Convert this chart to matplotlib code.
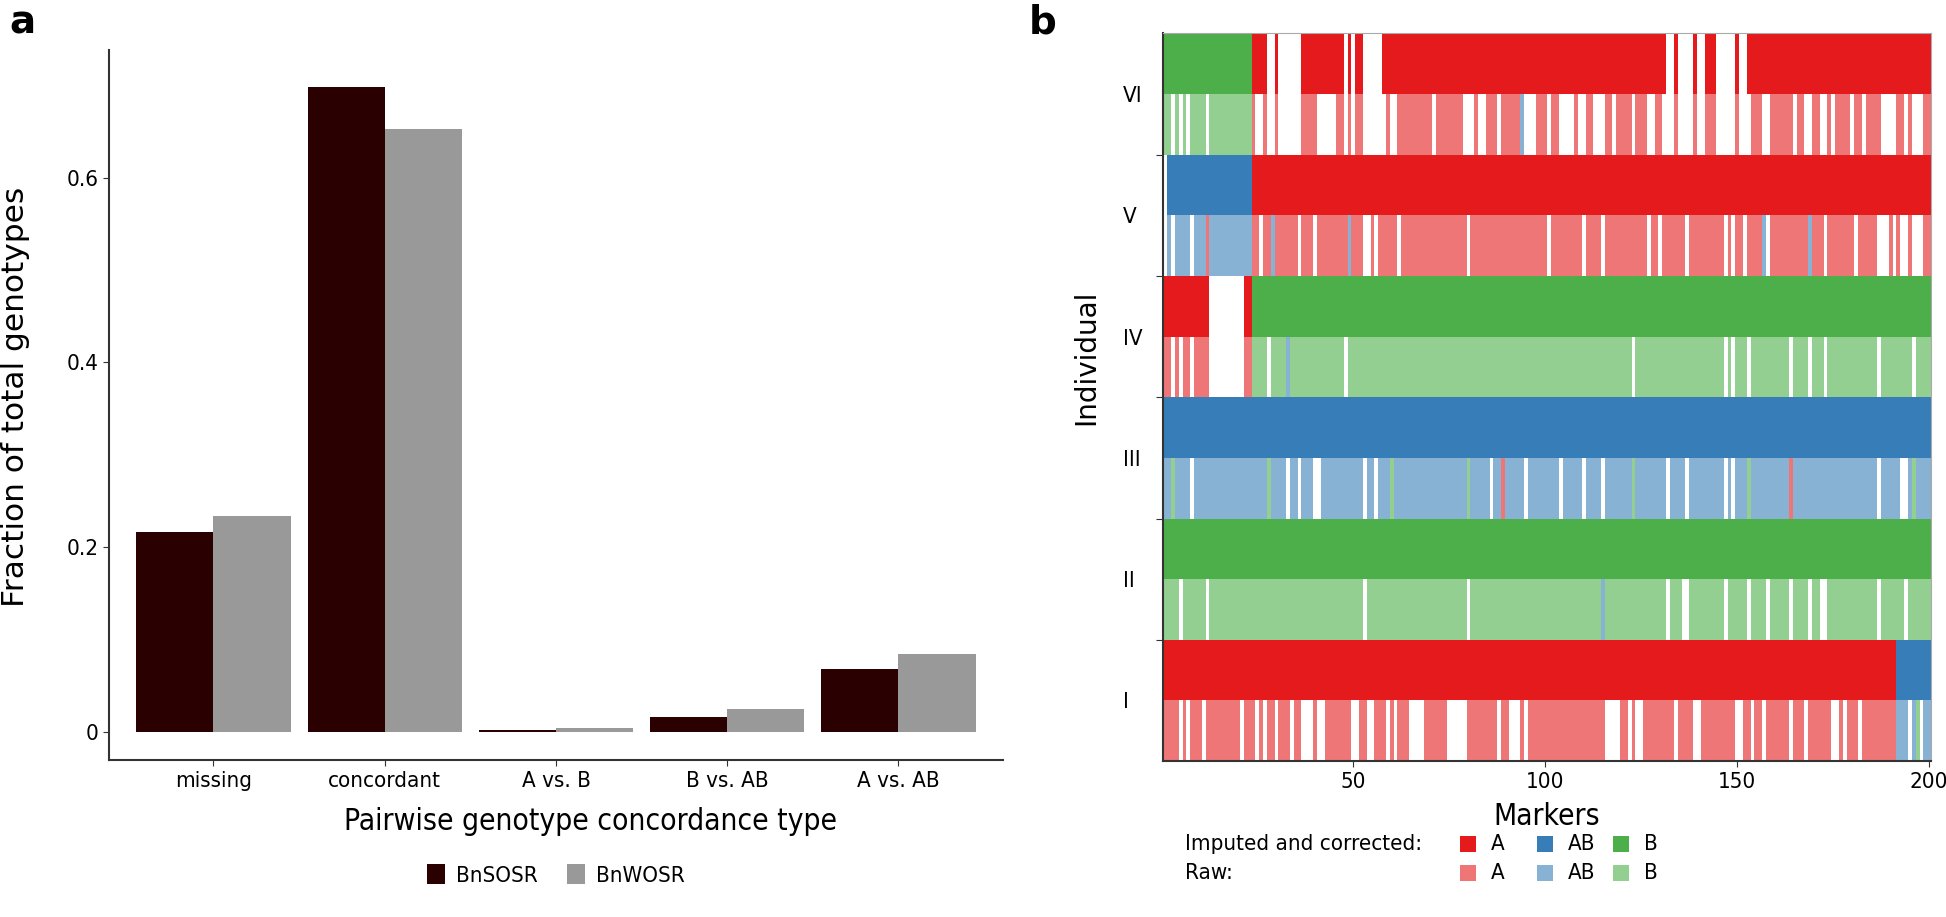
import matplotlib
matplotlib.use('Agg')
import matplotlib.pyplot as plt
from matplotlib.patches import Rectangle
from matplotlib.font_manager import FontProperties

# panel a: genotype concordance
categories = ['missing', 'concordant', 'A vs. B', 'B vs. AB', 'A vs. AB']
bnsosr = [0.217, 0.698, 0.002, 0.016, 0.068]
bnwosr = [0.234, 0.652, 0.005, 0.025, 0.085]

# panel b: genotype runs per individual, (first marker, last marker, genotype); gaps are missing
individuals = ['I', 'II', 'III', 'IV', 'V', 'VI']

imputed = {
    'VI': [(1, 23, 'B'), (24, 27, 'A'), (30, 30, 'A'), (37, 47, 'A'), (49, 49, 'A'), (51, 52, 'A'),
           (58, 131, 'A'), (134, 134, 'A'), (139, 139, 'A'), (142, 144, 'A'), (150, 150, 'A'),
           (153, 200, 'A')],
    'V': [(2, 23, 'AB'), (24, 200, 'A')],
    'IV': [(1, 12, 'A'), (22, 23, 'A'), (24, 200, 'B')],
    'III': [(1, 200, 'AB')],
    'II': [(1, 200, 'B')],
    'I': [(1, 191, 'A'), (192, 200, 'AB')],
}

raw = {
    'VI': [(1, 2, 'B'), (4, 4, 'B'), (6, 6, 'B'), (8, 11, 'B'), (13, 23, 'B'), (24, 24, 'A'),
           (27, 27, 'A'), (30, 30, 'A'), (37, 40, 'A'), (46, 47, 'A'), (49, 49, 'A'), (51, 52, 'A'),
           (59, 59, 'A'), (62, 70, 'A'), (72, 78, 'A'), (82, 82, 'A'), (85, 87, 'A'), (89, 93, 'A'),
           (94, 94, 'AB'), (98, 100, 'A'), (102, 103, 'A'), (108, 108, 'A'), (111, 112, 'A'),
           (116, 117, 'A'), (119, 122, 'A'), (124, 126, 'A'), (129, 130, 'A'), (134, 134, 'A'),
           (139, 139, 'A'), (142, 144, 'A'), (150, 150, 'A'), (154, 156, 'A'), (159, 164, 'A'),
           (166, 167, 'A'), (170, 171, 'A'), (174, 174, 'A'), (176, 179, 'A'), (181, 182, 'A'),
           (184, 187, 'A'), (192, 193, 'A'), (195, 195, 'A'), (199, 200, 'A')],
    'V': [(2, 2, 'AB'), (4, 7, 'AB'), (9, 11, 'AB'), (12, 12, 'A'), (13, 23, 'AB'), (24, 25, 'A'),
          (27, 28, 'A'), (29, 29, 'AB'), (30, 35, 'A'), (37, 39, 'A'), (41, 48, 'A'), (49, 49, 'AB'),
          (50, 52, 'A'), (55, 55, 'A'), (57, 61, 'A'), (63, 79, 'A'), (81, 100, 'A'), (102, 109, 'A'),
          (111, 114, 'A'), (116, 126, 'A'), (128, 129, 'A'), (131, 136, 'A'), (138, 146, 'A'),
          (148, 148, 'A'), (150, 151, 'A'), (153, 156, 'A'), (157, 157, 'AB'), (159, 168, 'A'),
          (169, 169, 'AB'), (170, 172, 'A'), (174, 180, 'A'), (182, 186, 'A'), (190, 190, 'A'),
          (192, 192, 'A'), (195, 195, 'A'), (199, 200, 'A')],
    'IV': [(1, 2, 'A'), (4, 4, 'A'), (6, 7, 'A'), (9, 12, 'A'), (22, 23, 'A'), (24, 27, 'B'),
           (29, 32, 'B'), (33, 33, 'AB'), (34, 47, 'B'), (49, 122, 'B'), (124, 146, 'B'),
           (148, 148, 'B'), (150, 152, 'B'), (154, 163, 'B'), (165, 168, 'B'), (170, 172, 'B'),
           (174, 186, 'B'), (188, 195, 'B'), (197, 200, 'B')],
    'III': [(1, 2, 'AB'), (3, 3, 'B'), (4, 7, 'AB'), (9, 27, 'AB'), (28, 28, 'B'), (29, 32, 'AB'),
            (34, 35, 'AB'), (37, 39, 'AB'), (42, 52, 'AB'), (54, 55, 'AB'), (57, 59, 'AB'),
            (60, 60, 'B'), (61, 79, 'AB'), (80, 80, 'B'), (81, 85, 'AB'), (87, 88, 'AB'),
            (89, 89, 'A'), (90, 94, 'AB'), (96, 103, 'AB'), (105, 109, 'AB'), (111, 114, 'AB'),
            (116, 122, 'AB'), (123, 123, 'B'), (124, 131, 'AB'), (133, 136, 'AB'), (138, 146, 'AB'),
            (148, 148, 'AB'), (150, 152, 'AB'), (153, 153, 'B'), (154, 163, 'AB'), (164, 164, 'A'),
            (165, 186, 'AB'), (188, 192, 'AB'), (195, 195, 'AB'), (196, 196, 'B'), (197, 200, 'AB')],
    'II': [(1, 4, 'B'), (6, 11, 'B'), (13, 52, 'B'), (54, 79, 'B'), (81, 114, 'B'), (115, 115, 'AB'),
           (116, 131, 'B'), (133, 135, 'B'), (138, 146, 'B'), (148, 152, 'B'), (154, 157, 'B'),
           (159, 163, 'B'), (165, 168, 'B'), (170, 171, 'B'), (174, 186, 'B'), (188, 193, 'B'),
           (195, 200, 'B')],
    'I': [(1, 4, 'A'), (6, 6, 'A'), (8, 10, 'A'), (12, 20, 'A'), (22, 24, 'A'), (26, 26, 'A'),
          (28, 29, 'A'), (31, 33, 'A'), (35, 36, 'A'), (40, 40, 'A'), (43, 49, 'A'), (52, 53, 'A'),
          (56, 58, 'A'), (60, 60, 'A'), (62, 64, 'A'), (69, 74, 'A'), (80, 87, 'A'), (89, 90, 'A'),
          (94, 94, 'A'), (96, 115, 'A'), (120, 121, 'A'), (123, 123, 'A'), (126, 133, 'A'),
          (135, 138, 'A'), (141, 149, 'A'), (152, 153, 'A'), (155, 156, 'A'), (158, 163, 'A'),
          (165, 167, 'A'), (169, 174, 'A'), (177, 177, 'A'), (179, 181, 'A'), (183, 191, 'A'),
          (192, 194, 'AB'), (196, 196, 'AB'), (197, 197, 'B'), (199, 200, 'AB')],
}

genotypes = ['A', 'AB', 'B']
imputed_colors = {'A': '#E41A1C', 'AB': '#377EB8', 'B': '#4DAF4A'}
raw_colors = {'A': '#EF7677', 'AB': '#87B2D4', 'B': '#94CF92'}

plt.rcParams['font.family'] = ['DejaVu Sans']


def cond(size):
    return FontProperties(family='DejaVu Sans', stretch='condensed', size=size)


TICK = 16
TITLE = 21.5
W, H = 1946, 917
fig = plt.figure(figsize=(W / 100, H / 100), dpi=100)

# ---- panel a ----
ax1 = fig.add_axes([0.056, 0.171, 0.4594, 0.7745])
x = list(range(len(categories)))
w = 0.45
ax1.bar([i - w / 2 for i in x], bnsosr, width=w, color='#2B0000', label='BnSOSR')
ax1.bar([i + w / 2 for i in x], bnwosr, width=w, color='#999999', label='BnWOSR')
ax1.set_xlim(-0.61, 4.61)
ax1.set_ylim(-0.0303, 0.738)
ax1.set_yticks([0, 0.2, 0.4, 0.6])
ax1.set_yticklabels(['0', '0.2', '0.4', '0.6'])
ax1.set_xticks(x)
ax1.set_xticklabels(categories)
ax1.tick_params(length=4, color='#333333')
for lab in ax1.get_xticklabels() + ax1.get_yticklabels():
    lab.set_fontproperties(cond(TICK))
ax1.spines['top'].set_visible(False)
ax1.spines['right'].set_visible(False)
for side in ('left', 'bottom'):
    ax1.spines[side].set_color('#333333')
    ax1.spines[side].set_linewidth(1.5)
ax1.set_xlabel('Pairwise genotype concordance type', fontproperties=cond(TITLE), va='center')
ax1.xaxis.set_label_coords(0.539, -0.087)
ax1.set_ylabel('Fraction of total genotypes', fontsize=22.5)
ax1.yaxis.set_label_coords(-0.088, 0.511)
ax1.legend(loc='upper center', bbox_to_anchor=(0.5, -0.118), ncol=2, frameon=False,
           prop=cond(TICK), handlelength=0.8, handleheight=1.0, columnspacing=1.3,
           handletextpad=0.5)

fig.text(0.005, 0.975, 'a', fontsize=28, fontweight='bold', va='center')
fig.text(0.5284, 0.975, 'b', fontsize=28, fontweight='bold', va='center')

# ---- panel b ----
ax2 = fig.add_axes([0.5976, 0.170, 0.3947, 0.7935])
for k, ind in enumerate(individuals):
    for runs, colors, y0 in ((raw[ind], raw_colors, k), (imputed[ind], imputed_colors, k + 0.5)):
        for g in genotypes:
            spans = [(s - 0.5, e - s + 1) for s, e, gg in runs if gg == g]
            if spans:
                ax2.broken_barh(spans, (y0, 0.5), facecolors=colors[g], edgecolor='none')

ax2.set_xlim(0.4, 200.5)
ax2.set_ylim(0, 6)
ax2.set_xticks([50, 100, 150, 200])
ax2.set_yticks([1, 2, 3, 4, 5])
ax2.set_yticklabels([])
ax2.set_yticks([k + 0.5 for k in range(6)], minor=True)
ax2.set_yticklabels(individuals, minor=True)
ax2.tick_params(axis='y', which='minor', length=0, pad=29)
ax2.tick_params(axis='y', which='major', length=5, color='#333333')
ax2.tick_params(axis='x', length=4, color='#333333')
for lab in ax2.get_yticklabels(minor=True):
    lab.set_fontproperties(cond(TICK))
    lab.set_horizontalalignment('left')
for lab in ax2.get_xticklabels():
    lab.set_fontproperties(cond(TICK))
for side in ('top', 'right'):
    ax2.spines[side].set_color('#AAAAAA')
for side in ('left', 'bottom'):
    ax2.spines[side].set_color('#333333')
    ax2.spines[side].set_linewidth(1.5)
ax2.set_xlabel('Markers', fontproperties=cond(TITLE), va='center')
ax2.xaxis.set_label_coords(0.5, -0.0755)
ax2.set_ylabel('Individual', fontsize=20)
ax2.yaxis.set_label_coords(-0.082, 0.555)

# legend for panel b, drawn by hand (two rows of swatches)
text_x = 1185
swatch_x = [1460, 1537, 1613]
row_y = [844, 873]
sw = 16
for (title, colors), yy in zip([('Imputed and corrected:', imputed_colors), ('Raw:', raw_colors)], row_y):
    fig.text(text_x / W, 1 - yy / H, title, fontproperties=cond(TICK), va='center')
    for g, sx in zip(genotypes, swatch_x):
        fig.patches.append(Rectangle((sx / W, 1 - (yy + sw / 2) / H), sw / W, sw / H,
                                     transform=fig.transFigure, facecolor=colors[g],
                                     edgecolor='none'))
        fig.text((sx + 31) / W, 1 - yy / H, g, fontproperties=cond(TICK), va='center')

fig.savefig('out.png', dpi=100)
